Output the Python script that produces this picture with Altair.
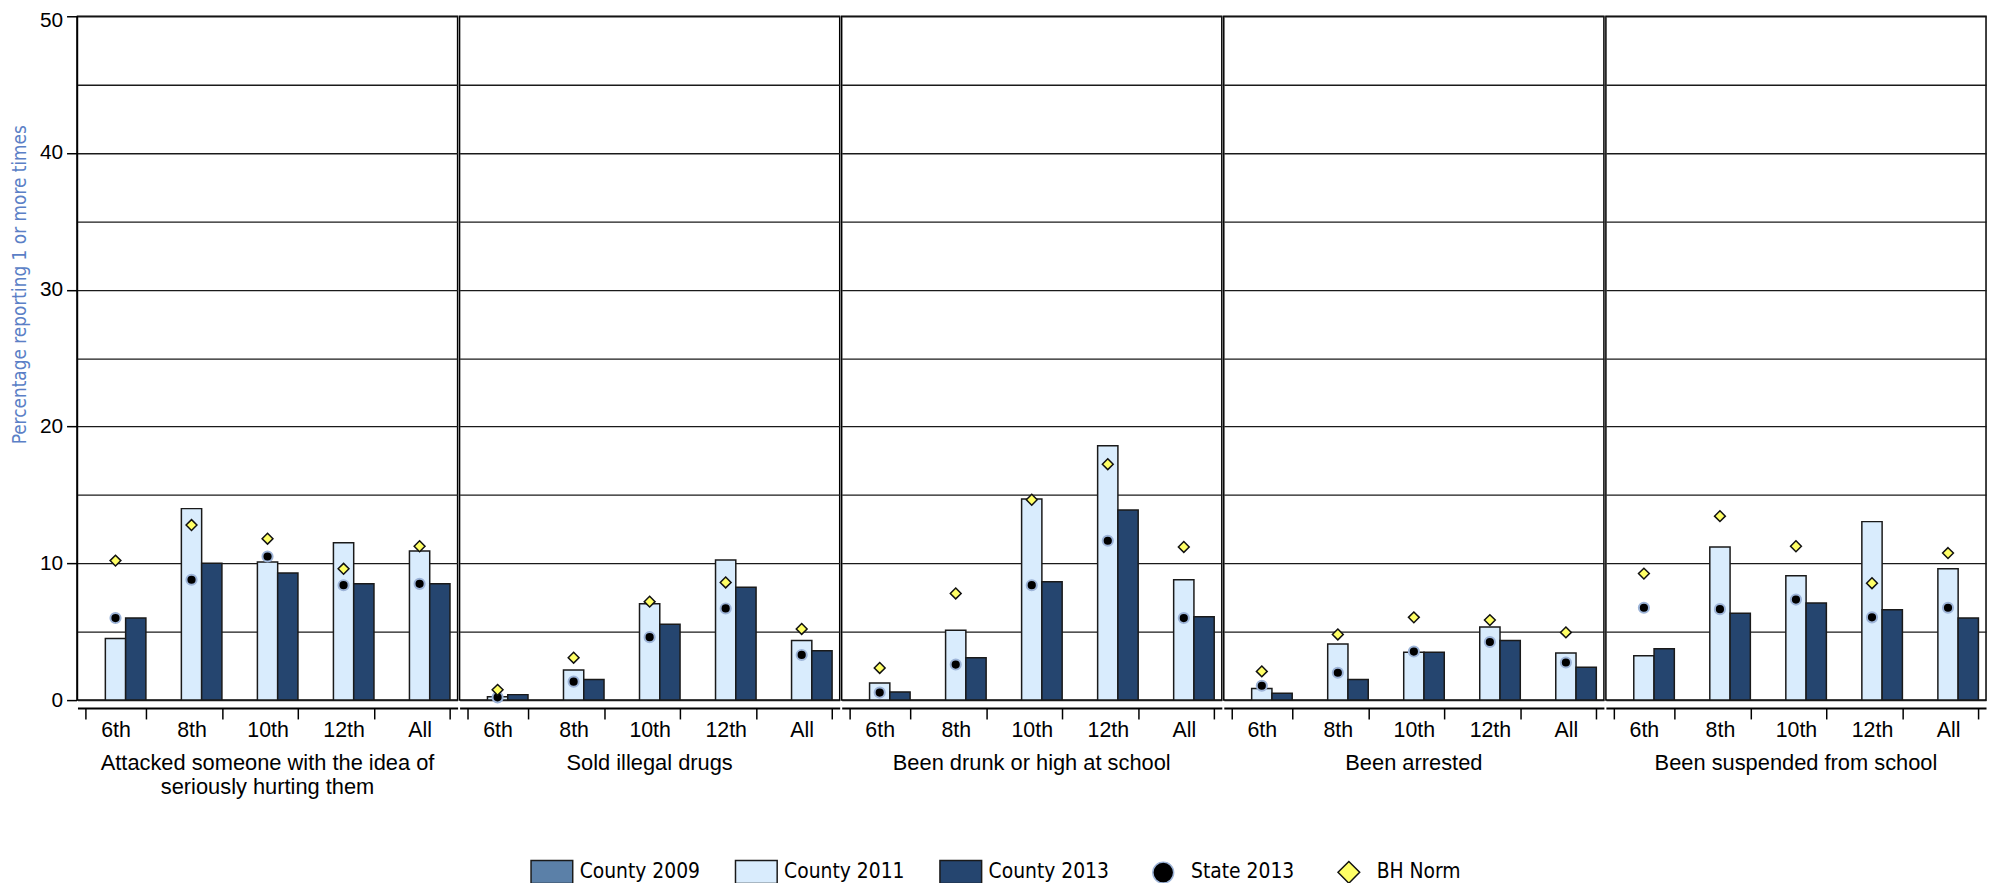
import altair as alt
import pandas as pd

topics = [
    "Attacked someone with the idea of|seriously hurting them",
    "Sold illegal drugs",
    "Been drunk or high at school",
    "Been arrested",
    "Been suspended from school",
]
grades = ["6th", "8th", "10th", "12th", "All"]
series_names = ["County 2009", "County 2011", "County 2013", "State 2013", "BH Norm"]

# County 2009 has no values in this chart (legend only)
county_2011 = [
    [4.5, 14.0, 10.1, 11.5, 10.9],
    [0.25, 2.2, 7.05, 10.25, 4.35],
    [1.25, 5.1, 14.7, 18.6, 8.8],
    [0.85, 4.1, 3.5, 5.35, 3.45],
    [3.25, 11.2, 9.1, 13.05, 9.6],
]
county_2013 = [
    [6.0, 10.0, 9.3, 8.5, 8.5],
    [0.4, 1.5, 5.55, 8.25, 3.6],
    [0.6, 3.1, 8.65, 13.9, 6.1],
    [0.5, 1.5, 3.5, 4.35, 2.4],
    [3.75, 6.35, 7.1, 6.6, 6.0],
]
state_2013 = [
    [6.0, 8.8, 10.5, 8.4, 8.5],
    [0.2, 1.35, 4.6, 6.7, 3.3],
    [0.55, 2.6, 8.4, 11.65, 6.0],
    [1.05, 2.0, 3.55, 4.25, 2.75],
    [6.75, 6.65, 7.35, 6.05, 6.75],
]
bh_norm = [
    [10.2, 12.8, 11.8, 9.6, 11.25],
    [0.75, 3.1, 7.2, 8.6, 5.2],
    [2.35, 7.8, 14.65, 17.25, 11.2],
    [2.1, 4.8, 6.05, 5.85, 4.95],
    [9.25, 13.45, 11.25, 8.55, 10.75],
]

rows = []
for ti, t in enumerate(topics):
    for gi, g in enumerate(grades):
        rows.append(dict(topic=t, grade=g, series="County 2011", value=county_2011[ti][gi]))
        rows.append(dict(topic=t, grade=g, series="County 2013", value=county_2013[ti][gi]))
        rows.append(dict(topic=t, grade=g, series="State 2013", value=state_2013[ti][gi]))
        rows.append(dict(topic=t, grade=g, series="BH Norm", value=bh_norm[ti][gi]))
df = pd.DataFrame(rows)

RECT = "M-1,-0.55L1,-0.55L1,0.55L-1,0.55Z"
CIRC = "M0.5,0A0.5,0.5,0,1,1,-0.5,0A0.5,0.5,0,1,1,0.5,0Z"
DIAM = "M0,-0.52L0.52,0L0,0.52L-0.52,0Z"

color_scale = alt.Scale(domain=series_names,
                        range=["#5b80a8", "#d9ecfd", "#25456f", "#000000", "#ffff66"])
stroke_scale = alt.Scale(domain=series_names,
                         range=["#1a1a1a", "#1a1a1a", "#1a1a1a", "#9db4d8", "#111111"])
shape_scale = alt.Scale(domain=series_names, range=[RECT, RECT, RECT, CIRC, DIAM])

COND = "DejaVu Sans Condensed"
ARIAL = "Liberation Sans"

legend = alt.Legend(title=None, orient="none", direction="horizontal",
                    legendX=456, legendY=840,
                    symbolSize=1764, symbolStrokeWidth=1.5, symbolOpacity=1,
                    labelFont=COND, labelFontSize=21, labelColor="black",
                    labelOffset=6, columnPadding=32, labelLimit=300)

x_enc = alt.X("grade:N", sort=grades,
              scale=alt.Scale(paddingInner=0.2, paddingOuter=0.1),
              axis=alt.Axis(title=None, labelAngle=0, labelFont=ARIAL, labelFontSize=21.5,
                            labelColor="black", tickBand="extent", tickSize=11,
                            tickColor="black", tickWidth=1.5, domainColor="black",
                            domainWidth=2, labelPadding=1, grid=False))
y_enc = alt.Y("value:Q", scale=alt.Scale(domain=[0, 50], nice=False),
              axis=alt.Axis(values=list(range(0, 51, 5)),
                            title="Percentage reporting 1 or more times",
                            titleFont=COND, titleFontSize=19, titleFontWeight="normal",
                            titleColor="#5b7fc6", titleX=-47, titleY=270,
                            titleBaseline="bottom",
                            labelExpr="datum.value % 10 === 0 ? datum.label : ''",
                            tickOpacity={"condition": {"test": "datum.value % 10 === 0", "value": 1}, "value": 0},
                            labelOffset={"condition": {"test": "datum.value === 50", "value": 4}, "value": 0},
                            tickSize=10, tickColor="black", tickWidth=1.5,
                            labelFont=ARIAL, labelFontSize=21, labelColor="black",
                            labelPadding=4, gridColor="#1a1a1a", gridWidth=1.3,
                            domainColor="black", domainWidth=1.5))

base = alt.Chart()

bars = base.transform_filter(
    alt.FieldOneOfPredicate(field="series", oneOf=["County 2009", "County 2011", "County 2013"])
).mark_bar(strokeWidth=1.5, opacity=1).encode(
    x=x_enc, y=y_enc,
    xOffset=alt.XOffset("series:N", scale=alt.Scale(domain=["County 2009", "County 2011", "County 2013"],
                                                    paddingInner=0, paddingOuter=0)),
    color=alt.Color("series:N", scale=color_scale, legend=legend),
    stroke=alt.Stroke("series:N", scale=stroke_scale, legend=legend),
)

state = base.transform_filter(alt.datum.series == "State 2013").mark_point(
    filled=True, size=420, strokeWidth=2, opacity=1).encode(
    x=x_enc, y=y_enc,
    color=alt.Color("series:N", scale=color_scale, legend=legend),
    stroke=alt.Stroke("series:N", scale=stroke_scale, legend=legend),
    shape=alt.Shape("series:N", scale=shape_scale, legend=legend),
)

bh = base.transform_filter(alt.datum.series == "BH Norm").mark_point(
    filled=True, size=440, strokeWidth=1.5, opacity=1).encode(
    x=x_enc, y=y_enc,
    color=alt.Color("series:N", scale=color_scale, legend=legend),
    stroke=alt.Stroke("series:N", scale=stroke_scale, legend=legend),
    shape=alt.Shape("series:N", scale=shape_scale, legend=legend),
)

layered = alt.layer(bars, state, bh, data=df).properties(width=383, height=689)

chart = layered.facet(
    column=alt.Column("topic:N", sort=topics,
                      header=alt.Header(title=None, labelOrient="bottom",
                                        labelExpr="split(datum.value, '|')",
                                        labelFont=ARIAL, labelFontSize=22, labelColor="black",
                                        labelPadding=12, labelLineHeight=24)),
    spacing=0,
).properties(
    padding={"left": 3, "top": -2, "right": 2, "bottom": 0}
).configure_view(stroke="black", strokeWidth=1.5)

chart.save("out.html", embed_options={"renderer": "svg", "actions": False})
